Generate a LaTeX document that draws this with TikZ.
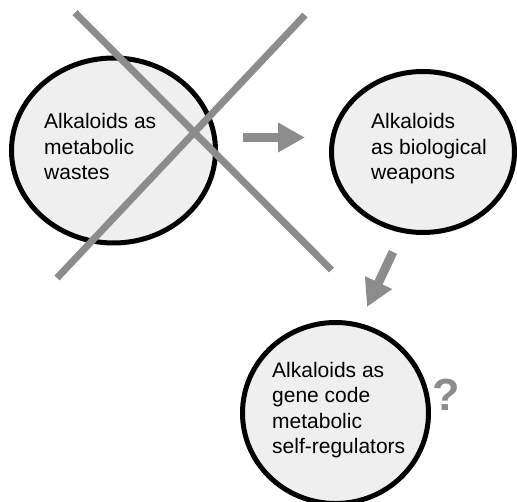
\documentclass[tikz,border=0pt]{standalone}
\usepackage{fontspec}
\setmainfont{Liberation Sans}
\usetikzlibrary{shapes.geometric,arrows.meta}
\definecolor{crossgray}{HTML}{8C8C8C}
\definecolor{fillgray}{HTML}{EFEFEF}
\tikzset{
  bubble/.style={draw=black, line width=5pt, fill=fillgray, ellipse, inner sep=0pt},
  bubbletext/.style={anchor=north west, inner sep=0pt, align=left, font=\fontsize{21}{25.5}\selectfont},
  crossline/.style={draw=crossgray, line width=7pt, line cap=butt},
  bigarrow/.style={draw=crossgray, line width=9pt, -{Triangle[length=27pt, width=28pt]}},
}
\begin{document}
\begin{tikzpicture}[x=1pt,y=-1pt]
\useasboundingbox (0,0) rectangle (517,502);
\clip (0,0) rectangle (517,502);
% bubbles
\node[bubble, minimum width=204pt, minimum height=185pt] (waste) at (113.5,150.5) {};
\node[bubble, minimum width=183pt, minimum height=161pt] (weapon) at (423,152) {};
\node[bubble, minimum width=186pt, minimum height=181pt] (gene) at (335.5,413) {};
% texts
\node[bubbletext] (wastetext) at (44,113.3) {Alkaloids as\\metabolic\\wastes};
\node[bubbletext] (weapontext) at (371,113.3) {Alkaloids\\as biological\\weapons};
\node[bubbletext] (genetext) at (272,361.7) {Alkaloids as\\gene code\\metabolic\\self-regulators};
% cross
\coordinate (c1a) at (75,12.7);
\coordinate (c1b) at (331.5,270);
\coordinate (c2a) at (305,15);
\coordinate (c2b) at (57,278);
\draw[crossline] (c1a) -- (c1b);
\draw[crossline] (c2a) -- (c2b);
% arrows
\coordinate (h1) at (243,137.5);
\coordinate (h2) at (305,137.5);
\draw[bigarrow] (h1) -- (h2);
\coordinate (d1) at (393,252);
\coordinate (d2) at (367,307);
\draw[bigarrow] (d1) -- (d2);
% question mark
\node[text=crossgray, font=\bfseries\fontsize{45}{50}\selectfont, inner sep=0pt] (qmark) at (446.5,395) {?};
\end{tikzpicture}
\end{document}
